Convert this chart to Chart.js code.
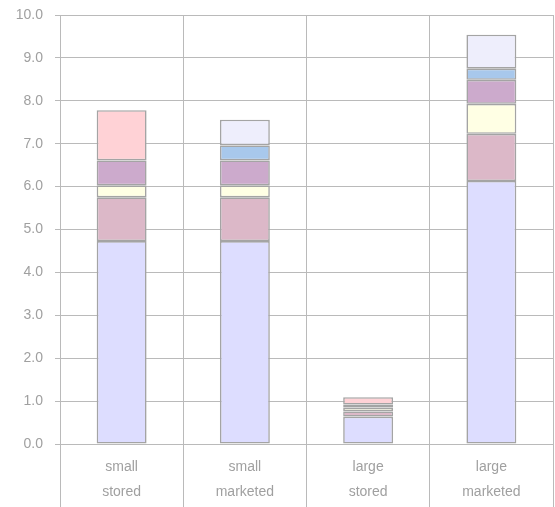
<!DOCTYPE html>
<html>
<head>
<meta charset="utf-8">
<script src="https://cdn.jsdelivr.net/npm/chart.js@4.4.1/dist/chart.umd.min.js"></script>
<style>
  html, body { margin: 0; padding: 0; background: #ffffff; }
  #wrap { width: 555px; height: 507px; }
</style>
</head>
<body>
<div id="wrap"><canvas id="c" width="555" height="507"></canvas></div>
<script>
// Categories (two-line labels)
const categories = [["small", "stored"], ["small", "marketed"], ["large", "stored"], ["large", "marketed"]];

// Stacked segment values, bottom to top
const seriesA = [4.73, 4.73, 0.64, 6.13];
const seriesB = [1.02, 1.02, 0.12, 1.10];
const seriesC = [0.28, 0.28, 0.09, 0.70];
const seriesD = [0.58, 0.58, 0.07, 0.56];
const seriesE = [null, 0.35, null, 0.26];
const seriesF = [1.17, null, 0.17, null];
const seriesG = [null, 0.60, null, 0.79];

// Value axis ticks
const yTicks = [0, 1, 2, 3, 4, 5, 6, 7, 8, 9, 10];

const fills = ["#ddddff", "#dcb8c8", "#ffffe4", "#ccaacc", "#a8c8ec", "#ffd2d6", "#eeeefc"];
const allSeries = [seriesA, seriesB, seriesC, seriesD, seriesE, seriesF, seriesG];

const datasets = allSeries.map((vals, i) => ({
  label: "s" + (i + 1),
  data: vals,
  backgroundColor: fills[i],
  borderColor: "#a4a4a4",
  borderWidth: 1.6,
  borderSkipped: false,
  barPercentage: 0.405,
  categoryPercentage: 1.0
}));

const gridColor = "#bababa";
const textColor = "#a0a0a0";

new Chart(document.getElementById("c"), {
  type: "bar",
  data: { labels: categories, datasets: datasets },
  options: {
    responsive: false,
    animation: false,
    layout: { padding: { top: 15, right: 2, left: 0, bottom: 0 } },
    plugins: { legend: { display: false }, tooltip: { enabled: false } },
    scales: {
      x: {
        stacked: true,
        grid: { color: gridColor, lineWidth: 1, offset: true, drawTicks: true, tickLength: 63, tickColor: gridColor },
        border: { color: gridColor, width: 1 },
        ticks: {
          color: textColor,
          font: { family: "'Liberation Sans', Arial, sans-serif", size: 14, lineHeight: 1.75 },
          padding: -52,
          maxRotation: 0,
          autoSkip: false
        },
        afterFit: (s) => { s.height = 63; s.paddingLeft = 0; s.paddingRight = 0; }
      },
      y: {
        stacked: true,
        min: 0,
        max: 10,
        afterBuildTicks: (s) => { s.ticks = yTicks.map(v => ({ value: v })); },
        grid: { color: gridColor, lineWidth: 1, drawTicks: true, tickLength: 5, tickColor: gridColor },
        border: { color: gridColor, width: 1 },
        ticks: {
          color: textColor,
          font: { family: "'Liberation Sans', Arial, sans-serif", size: 14 },
          padding: 12,
          callback: (v) => Number(v).toFixed(1)
        },
        afterFit: (s) => { s.width = 60; s.paddingTop = 0; s.paddingBottom = 0; }
      }
    }
  }
});
</script>
</body>
</html>
